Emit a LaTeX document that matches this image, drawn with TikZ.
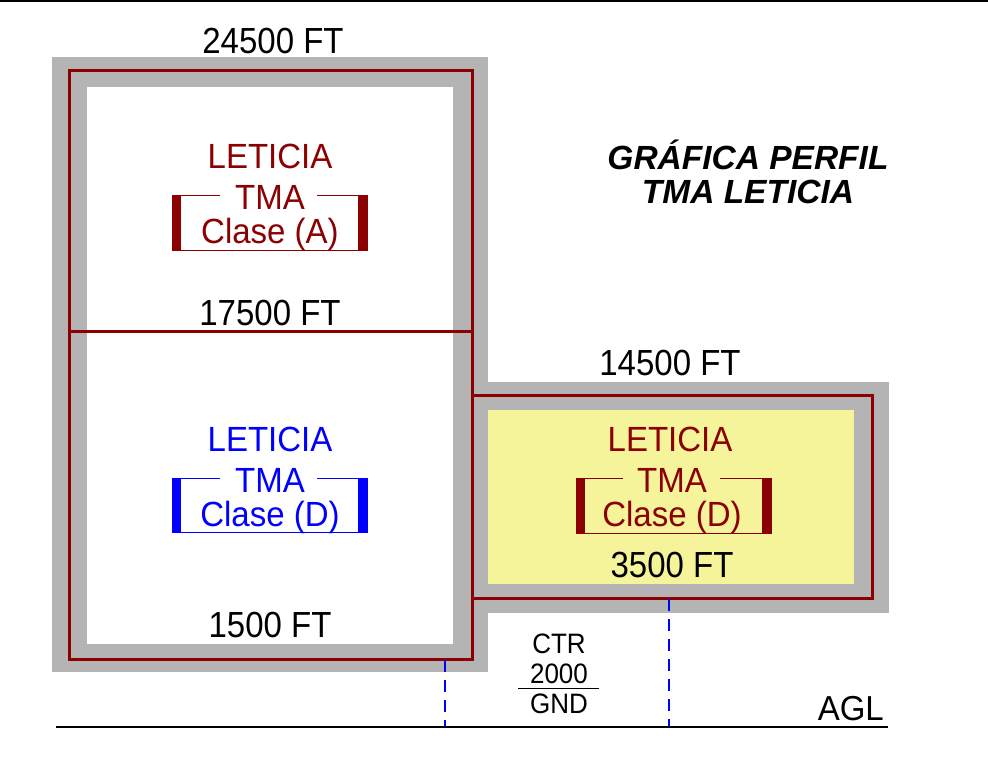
\documentclass[tikz,border=0pt]{standalone}
\usepackage{fontspec}
\setmainfont{Liberation Sans}
\definecolor{dred}{RGB}{139,0,0}
\definecolor{gry}{RGB}{180,180,180}
\definecolor{ylw}{RGB}{245,244,155}
\definecolor{bblue}{RGB}{0,0,255}
\newcommand{\vsc}[2][1.1]{\scalebox{1}[#1]{#2}}
\begin{document}
\begin{tikzpicture}[x=1pt,y=-1pt,
  lbl/.style={inner sep=0pt, anchor=base, font=\fontsize{33}{38}\selectfont},
  small/.style={inner sep=0pt, anchor=base, font=\fontsize{26}{30}\selectfont},
  ttl/.style={inner sep=0pt, anchor=base, font=\fontsize{33.5}{36}\selectfont\bfseries\itshape},
  redline/.style={draw=dred, line width=3pt},
  thin/.style={line width=1pt},
  dsh/.style={draw=bblue, line width=1.4pt, dash pattern=on 12pt off 8pt}]
\useasboundingbox (0,0) rectangle (988,757);
\fill[white] (0,0) rectangle (988,757);
\draw[line width=2pt] (0,1) -- (988,1);
% gray frames
\fill[gry] (52,57) rectangle (488,672);
\fill[gry] (453,382) rectangle (889,613);
\fill[white] (87,87) rectangle (453,644);
\fill[ylw] (488,410) rectangle (854,584);
% red outlines
\draw[redline] (69,71) rectangle (472,659);
\draw[redline] (69,331) -- (472,331);
\draw[redline] (472,395) rectangle (872,598);
% dashed and ground line
\draw[dsh] (445,660) -- (445,727);
\draw[dsh] (669,599) -- (669,727);
\draw[line width=1.5pt] (56,727) -- (888,727);
% bracket A
\fill[dred] (172,195) rectangle (181,251);
\fill[dred] (358,195) rectangle (368,251);
\draw[draw=dred,thin] (181,195.5) -- (220,195.5) (317,195.5) -- (358,195.5) (181,250) -- (358,250);
% bracket D left
\fill[bblue] (172,478) rectangle (181,533);
\fill[bblue] (358,478) rectangle (368,533);
\draw[draw=bblue,thin] (181,478.5) -- (220,478.5) (317,478.5) -- (358,478.5) (181,532) -- (358,532);
% bracket D right
\fill[dred] (576,478) rectangle (585,534);
\fill[dred] (762,478) rectangle (772,534);
\draw[draw=dred,thin] (585,478.5) -- (623,478.5) (720,478.5) -- (762,478.5) (585,533) -- (762,533);
% labels
\node[lbl] (t24) at (273,54) {\vsc{24500 FT}};
\node[lbl, text=dred] (la) at (270,168) {\vsc[1.06]{LETICIA}};
\node[lbl, text=dred] (ta) at (270,209) {\vsc[1.06]{TMA}};
\node[lbl, text=dred] (ca) at (270,243) {\vsc[1.06]{Clase (A)}};
\node[lbl] (t17) at (270,325) {\vsc{17500 FT}};
\node[lbl, text=bblue] (lb) at (270,451) {\vsc[1.06]{LETICIA}};
\node[lbl, text=bblue] (tb) at (270,492) {\vsc[1.06]{TMA}};
\node[lbl, text=bblue] (cb) at (270,526) {\vsc[1.06]{Clase (D)}};
\node[lbl] (t15) at (270,637) {\vsc{1500 FT}};
\node[lbl] (t14) at (670,375) {\vsc{14500 FT}};
\node[lbl, text=dred] (lc) at (670,451) {\vsc[1.06]{LETICIA}};
\node[lbl, text=dred] (tc) at (672,492) {\vsc[1.06]{TMA}};
\node[lbl, text=dred] (cc) at (672,526) {\vsc[1.06]{Clase (D)}};
\node[lbl] (t35) at (672,577) {\vsc{3500 FT}};
\node[ttl] (g1) at (748,169) {GRÁFICA PERFIL};
\node[ttl] (g2) at (748,203) {TMA LETICIA};
\node[small] (ctr) at (559,653) {\vsc[1.08]{CTR}};
\node[small] (n2k) at (559,683) {\vsc[1.08]{2000}};
\node[small] (gnd) at (559,713) {\vsc[1.08]{GND}};
\draw[thin] (518,688) -- (599,688);
\node[lbl, anchor=base east] (agl) at (884,720) {\vsc[1.05]{AGL}};
\end{tikzpicture}
\end{document}
